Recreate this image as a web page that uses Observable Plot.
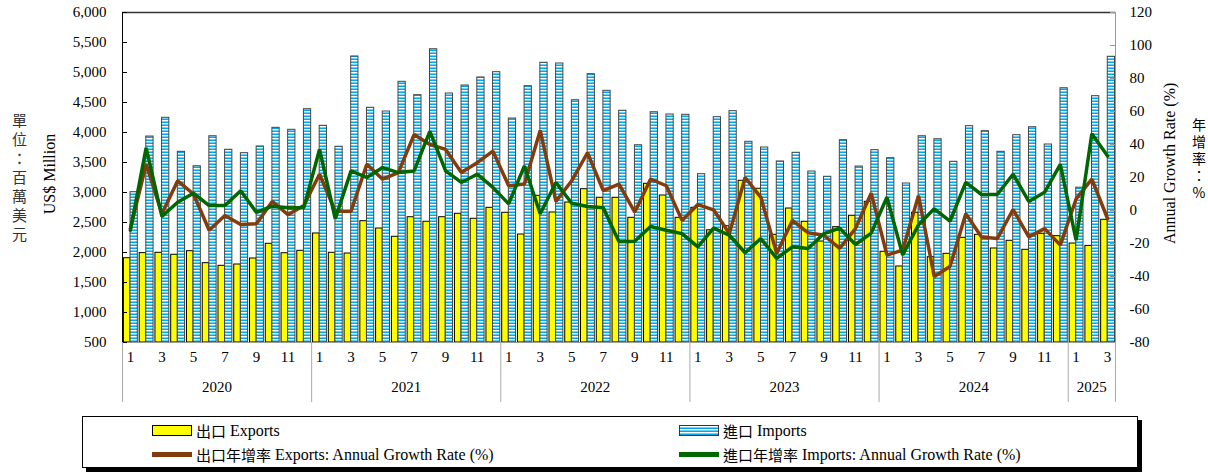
<!DOCTYPE html>
<html><head><meta charset="utf-8">
<script src="https://cdn.jsdelivr.net/npm/d3@7"></script>
<script src="https://cdn.jsdelivr.net/npm/@observablehq/plot@0.6"></script>
<style>
body{margin:0;background:#fff;}
#wrap{position:relative;width:1208px;height:472px;font-family:"Liberation Serif","Times New Roman","Noto Sans CJK TC",serif;color:#000;overflow:hidden;}
.vcjk{position:absolute;writing-mode:vertical-rl;text-orientation:upright;font-family:"Noto Sans CJK TC",sans-serif;letter-spacing:4px;}
.rot{position:absolute;transform-origin:center center;white-space:nowrap;font-size:16px;font-family:"Liberation Serif","Times New Roman",serif;}
#legend{position:absolute;left:82px;top:416px;width:1054px;height:50px;border:1px solid #000;box-shadow:4px 4px 0 #000;background:#fff;}
.li{position:absolute;font-size:16px;white-space:nowrap;display:flex;align-items:center;font-family:"Liberation Serif","Times New Roman",serif;}
.li .cj{font-family:"Noto Sans CJK TC",sans-serif;font-size:15px;}
.sw{display:inline-block;width:40px;margin-right:4px;box-sizing:border-box;}
</style></head><body>
<div id="wrap">
  <div id="chart"></div>
  <div class="vcjk" style="left:9px;top:113px;font-size:15px;color:#333;">單位：百萬美元</div>
  <div class="rot" style="left:0px;top:165px;width:100px;text-align:center;transform:rotate(-90deg);">US$ Million</div>
  <div class="rot" style="left:1090px;top:155px;width:160px;text-align:center;transform:rotate(-90deg);">Annual Growth Rate (%)</div>
  <div class="vcjk" style="left:1189px;top:118px;font-size:14px;letter-spacing:3px;">年增率：%</div>
  <div id="legend">
    <div class="li" style="left:69px;top:3px;"><span class="sw" style="height:11px;background:#ffff00;border:1px solid #000;"></span><span class="cj">出口</span>&nbsp;Exports</div>
    <div class="li" style="left:596px;top:3px;"><span class="sw" style="height:11px;border:1px solid #333;background:repeating-linear-gradient(to bottom,#fff 0px,#fff 1px,#6fd0f6 1px,#6fd0f6 2px,#00a8ec 2px,#00a8ec 3px);"></span><span class="cj">進口</span>&nbsp;Imports</div>
    <div class="li" style="left:69px;top:27px;"><span class="sw" style="height:5px;background:#843c0c;"></span><span class="cj">出口年增率</span>&nbsp;Exports: Annual Growth Rate (%)</div>
    <div class="li" style="left:596px;top:27px;"><span class="sw" style="height:5px;background:#006600;"></span><span class="cj">進口年增率</span>&nbsp;Imports: Annual Growth Rate (%)</div>
  </div>
</div>
<script>
// ---- data ----
const years = ["2020","2021","2022","2023","2024","2025"];
const monthsInYear = [12,12,12,12,12,3];
const monthTickLabels = ["1","3","5","7","9","11"];
const leftTicks = [500,1000,1500,2000,2500,3000,3500,4000,4500,5000,5500,6000];
const rightTicks = [-80,-60,-40,-20,0,20,40,60,80,100,120];

const exportsUSD = [
  1905,1990,1995,1962,2022,1822,1778,1800,1900,2145,1988,2028,
  2317,1995,1983,2522,2400,2262,2588,2512,2588,2645,2562,2745,
  2662,2300,2945,2667,2833,3055,2912,2912,2578,3145,2950,2578,
  2745,2370,2438,3195,3062,2295,2733,2512,2183,2422,2612,2845,
  2012,1767,2662,1922,1978,2245,2295,2067,2195,2045,2312,2272,
  2150,2110,2545
];
const importsUSD = [
  3005,3933,4245,3678,3438,3938,3712,3655,3767,4078,4045,4388,
  4112,3762,5267,4412,4350,4845,4622,5388,4650,4783,4917,5005,
  4233,4772,5162,5150,4538,4972,4695,4362,3788,4338,4300,4295,
  3305,4255,4355,3845,3750,3517,3662,3350,3262,3872,3433,3705,
  3572,3150,3938,3888,3512,4105,4022,3678,3955,4088,3800,4738,
  3080,4605,5262
];
const exportGrowth = [
  -11,28,-2,18,10,-12,-3,-8.5,-8,5.5,-2.6,3,
  22,-0.4,-0.4,28,19,23,46,40,37,23,29,36,
  15,16,48.5,5.5,18,35,12,16,-1,19,15,-6,
  3.6,0.4,-14,20,8,-26,-6,-13.5,-15,-23,-11,10.5,
  -27,-24,9,-40,-34,-2,-16,-17,0.6,-16,-11,-21,
  7,19,-5
];
const importGrowth = [
  -12,38,-3.6,5,10.5,3,3,12,-1.2,2.6,1.6,1.6,
  37,-5,24,20,26,23,24,48,24,17,22,14,
  4,27,-2,17,4.4,2.4,1.6,-19,-18.6,-9.7,-12,-14,
  -22,-10.7,-15,-25.6,-17,-29,-22,-23,-14,-10.7,-20.6,-13.7,
  8,-27,-8.7,1,-6.5,17,9.7,9.7,22,5.5,11,28,
  -18,46.5,33
];

// ---- derived tables ----
const rows = exportsUSD.map((e, i) => ({i, exp: e, imp: importsUSD[i], eg: exportGrowth[i], ig: importGrowth[i]}));
const g2y = g => 500 + (g + 80) * (5500 / 200); // right axis -> left axis units
const yearStarts = d3.cumsum([0, ...monthsInYear]).slice(0, -1);
const total = d3.sum(monthsInYear);
const bounds = [...yearStarts, total];
const yearLabels = years.map((y, k) => ({pos: yearStarts[k] + monthsInYear[k] / 2, label: y}));
const monthTicks = [];
years.forEach((y, k) => {
  for (let m = 1; m <= monthsInYear[k]; m++) {
    if (monthTickLabels.includes(String(m))) monthTicks.push({pos: yearStarts[k] + m - 0.5, label: String(m)});
  }
});

const chart = Plot.plot({
  width: 1208, height: 412,
  marginLeft: 122, marginRight: 93, marginTop: 12, marginBottom: 70,
  x: {type: "linear", domain: [0, total], axis: null, label: null},
  y: {domain: [500, 6000], axis: null, label: null},
  style: {fontFamily: '"Liberation Serif","Times New Roman",serif', fontSize: "15px", color: "#000", background: "white", overflow: "visible"},
  marks: [
    Plot.rect(rows, {x1: d => d.i + 0.09, x2: d => d.i + 0.51, y1: 500, y2: "exp", fill: "#ffff00", stroke: "#000", strokeWidth: 1}),
    Plot.rect(rows, {x1: d => d.i + 0.51, x2: d => d.i + 0.97, y1: 500, y2: "imp", fill: "url(#impStripes)", stroke: "#444", strokeWidth: 1}),
    Plot.lineY(rows, {x: d => d.i + 0.5, y: d => g2y(d.eg), stroke: "#843c0c", strokeWidth: 3.5, strokeLinejoin: "miter"}),
    Plot.lineY(rows, {x: d => d.i + 0.5, y: d => g2y(d.ig), stroke: "#006600", strokeWidth: 3.5, strokeLinejoin: "miter"}),
    // frame
    Plot.ruleY([500], {stroke: "#999"}),
    Plot.ruleY([6000], {stroke: "#333", strokeWidth: 1.5}),
    Plot.ruleX([total], {stroke: "#999"}),
    Plot.ruleX([0], {stroke: "#000"}),
    // inward ticks
    Plot.tickY(leftTicks, {y: d => d, stroke: "#000", insetRight: 988}),
    Plot.tickY(rightTicks, {y: d => g2y(d), stroke: "#999", insetLeft: 988}),
    // tick labels
    Plot.text(leftTicks, {y: d => d, text: d => d3.format(",")(d), frameAnchor: "left", textAnchor: "end", dx: -16, fontSize: 15}),
    Plot.text(rightTicks, {y: d => g2y(d), text: d => String(d), frameAnchor: "right", textAnchor: "start", dx: 14, fontSize: 15}),
    // x axis: year separators
    Plot.axisX({ticks: bounds, tickSize: 60, tickFormat: () => "", stroke: "#aaa", label: null}),
    Plot.text(monthTicks, {x: "pos", text: "label", frameAnchor: "bottom", dy: 19, fontSize: 15}),
    Plot.text(yearLabels, {x: "pos", text: "label", frameAnchor: "bottom", dy: 49, fontSize: 15})
  ]
});

const defs = `<defs><pattern id="impStripes" patternUnits="userSpaceOnUse" x="0" y="0" width="6" height="3">
<rect width="6" height="3" fill="#ffffff"/><rect y="1" width="6" height="1" fill="#6fd0f6"/><rect y="2" width="6" height="1" fill="#00a8ec"/></pattern></defs>`;
chart.insertAdjacentHTML("afterbegin", defs);
document.getElementById("chart").appendChild(chart);
</script>
</body></html>
